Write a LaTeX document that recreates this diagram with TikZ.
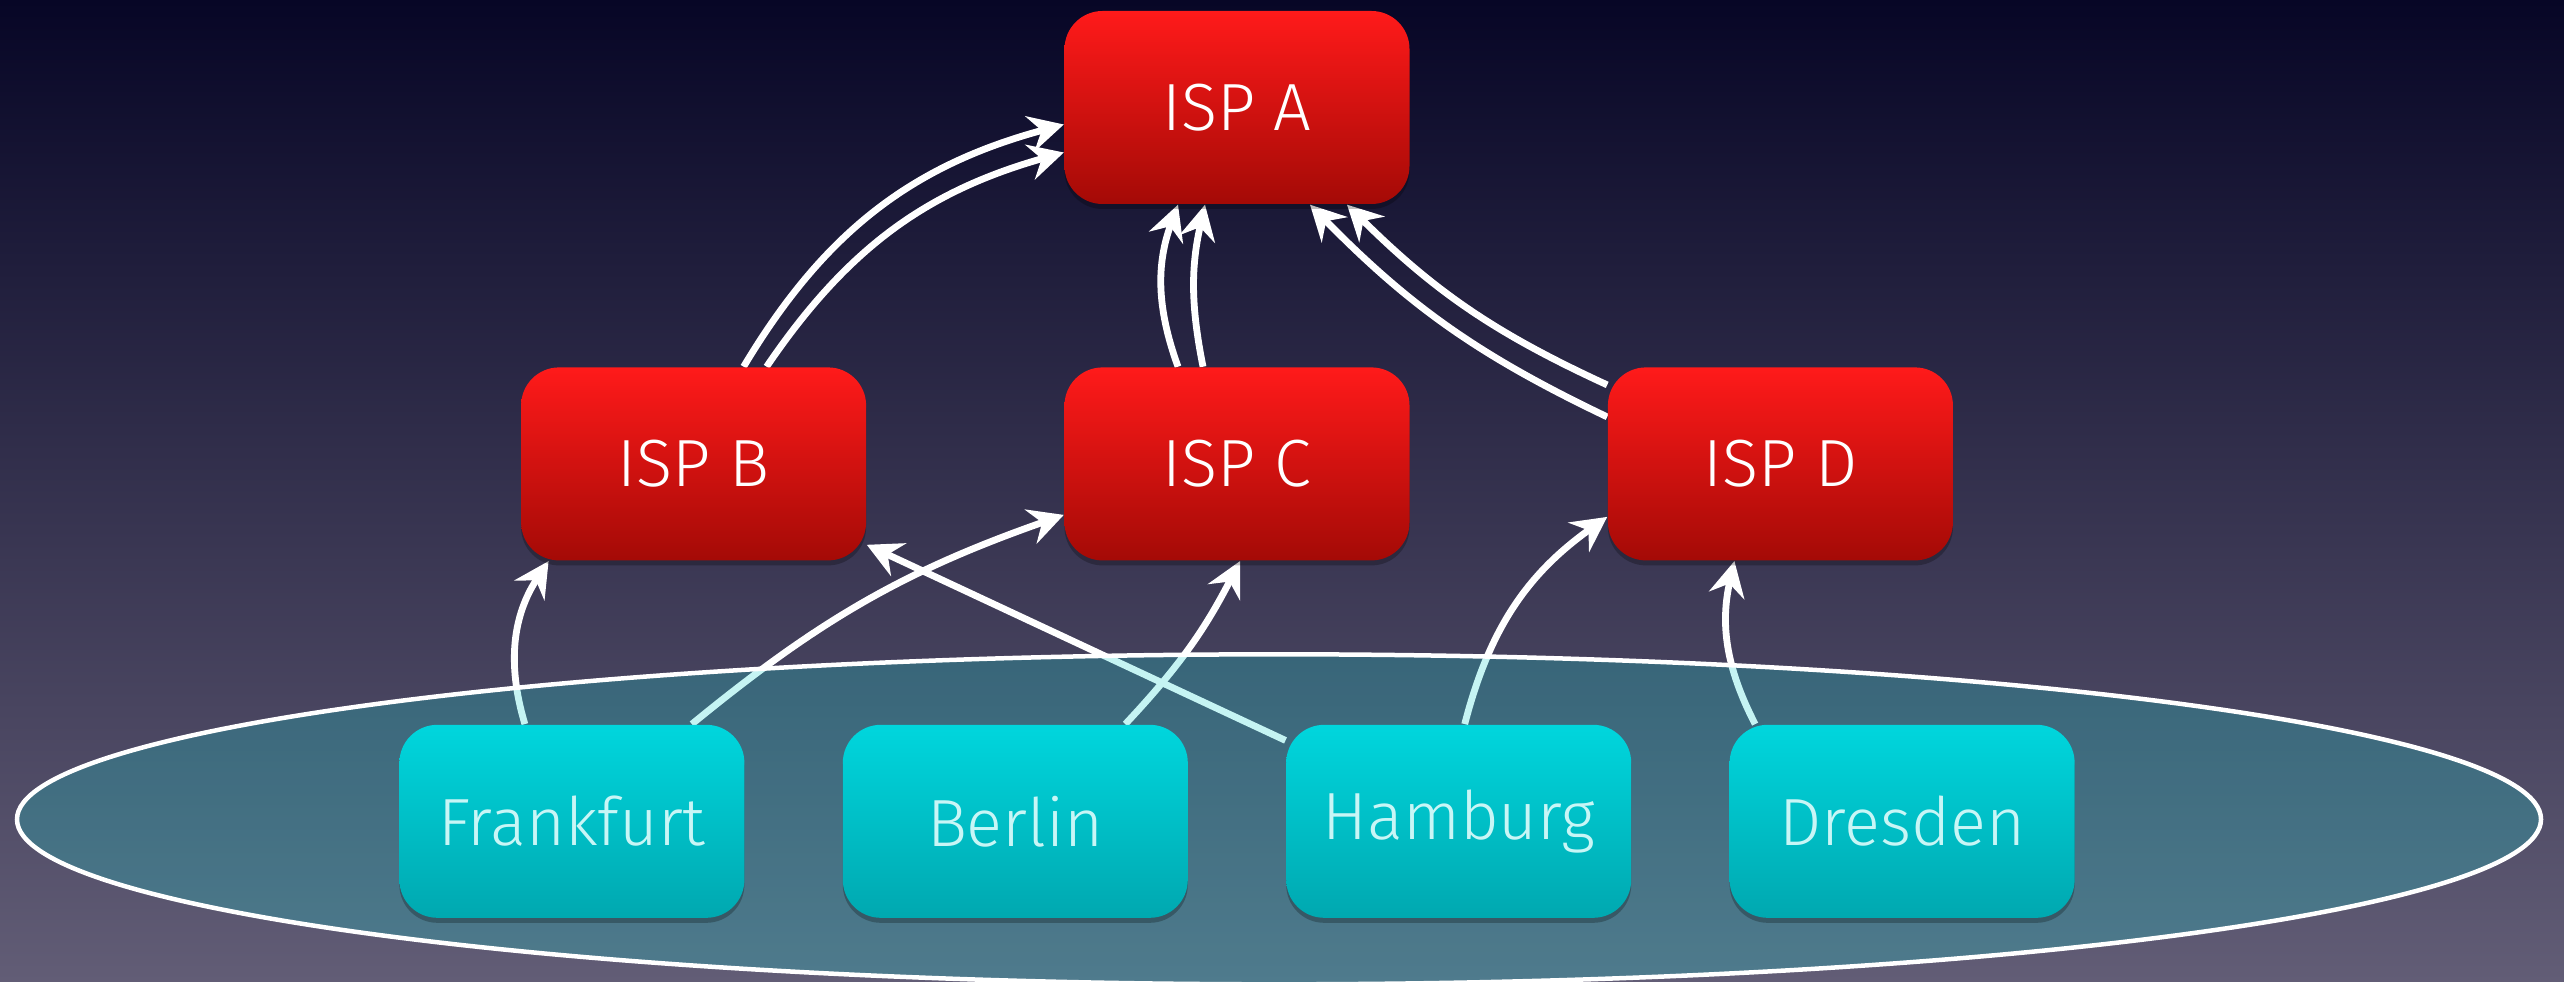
\documentclass[tikz,border=0pt]{standalone}
\usepackage{fontspec}
\setmainfont{Fira Sans}[UprightFont=* Light]
\usepackage{tikz}
\usetikzlibrary{arrows.meta,positioning,calc,shadows}

\definecolor{bgtop}{RGB}{7,6,38}
\definecolor{bgbottom}{RGB}{98,93,118}
\definecolor{isptop}{RGB}{255,26,26}
\definecolor{ispbottom}{RGB}{164,10,6}
\definecolor{citytop}{RGB}{0,214,221}
\definecolor{citybottom}{RGB}{0,168,176}
\definecolor{citytext}{RGB}{200,246,246}
\definecolor{zonefill}{RGB}{24,214,210}

\pgfdeclarelayer{bg}
\pgfdeclarelayer{links}
\pgfdeclarelayer{region}
\pgfsetlayers{bg,links,region,main}

\begin{document}
\begin{tikzpicture}[
      node distance=16.2mm and 19.7mm,
      box/.style={rectangle,rounded corners=3.8mm,minimum width=34.5mm,
                  minimum height=19.3mm,inner sep=0pt,align=center,
                  font=\fontsize{19}{23}\selectfont,
                  drop shadow={shadow xshift=0mm,shadow yshift=-0.5mm,opacity=0.25,fill=black}},
      isp/.style={box,top color=isptop,bottom color=ispbottom,text=white},
      city/.style={box,top color=citytop,bottom color=citybottom,text=citytext},
      arr/.style={-{Stealth[length=3.5mm,width=3.6mm,inset=1.2mm]},line width=0.68mm,white}
    ]

    \useasboundingbox (0,0) rectangle (256.4mm,-98.2mm);
    \begin{pgfonlayer}{bg}
      \shade[top color=bgtop,bottom color=bgbottom] (0,0) rectangle (256.4mm,-98.2mm);
    \end{pgfonlayer}

    \node[isp] at (123.7mm,-10.75mm) (A) {ISP A};
    \node[isp,below=of A] (C) {ISP C};
    \node[isp,left=of C]  (B) {ISP B};
    \node[isp,right=of C] (D) {ISP D};

    \node[city,below left=16.3mm and 4.85mm of C.south]  (BER) {Berlin};
    \node[city,below right=16.3mm and 4.85mm of C.south] (HAM) {Hamburg};
    \node[city,left=9.7mm of BER]  (FRA) {Frankfurt};
    \node[city,right=9.7mm of HAM] (DRE) {Dresden};

    % city region, tinted over the links
    \begin{pgfonlayer}{region}
      \draw[white,line width=0.45mm,fill=zonefill,fill opacity=0.25]
        ($(BER)!.5!(HAM)+(4.2mm,0.2mm)$) ellipse [x radius=126.2mm,y radius=16.5mm];
    \end{pgfonlayer}

    \begin{pgfonlayer}{links}
      \draw[arr] ([xshift=5mm]B.north)   to[bend left=22] ([yshift=-1.7mm]A.west);
      \draw[arr] ([xshift=7.3mm]B.north) to[bend left=20] ([yshift=-4.5mm]A.west);
      \draw[arr] ([xshift=-5.9mm]C.north) to[bend left=20] ([xshift=-5.9mm]A.south);
      \draw[arr] ([xshift=-3.4mm]C.north) to[bend left=12] ([xshift=-3.2mm]A.south);
      \draw[arr] ([yshift=7.9mm]D.west) to[bend left=10] ([xshift=11mm]A.south);
      \draw[arr] ([yshift=4.7mm]D.west) to[bend left=10] ([xshift=7.3mm]A.south);

      \draw[arr] ([xshift=-4.7mm]FRA.north) to[bend left=25] ([xshift=-14.5mm]B.south);
      \draw[arr] ([xshift=12mm]FRA.north)   to[bend left=10] ([yshift=-5.1mm]C.west);
      \draw[arr] ([xshift=11mm]BER.north)   to[bend right=8] ([xshift=0.3mm]C.south);
      \draw[arr] (HAM) -- (B);
      \draw[arr] ([xshift=0.6mm]HAM.north)  to[bend left=20] ([yshift=-5.3mm]D.west);
      \draw[arr] ([xshift=-14.7mm]DRE.north) to[bend left=20] ([xshift=-4.6mm]D.south);
    \end{pgfonlayer}

  \end{tikzpicture}
\end{document}
